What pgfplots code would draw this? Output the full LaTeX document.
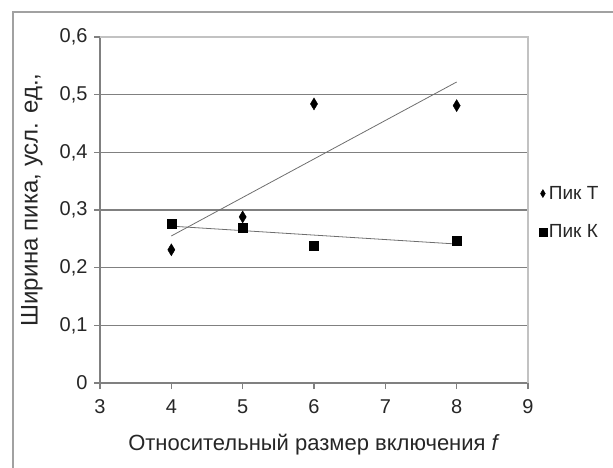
\documentclass[border=0pt]{standalone}
\usepackage{fontspec}
\setmainfont{Liberation Sans}
\usepackage{pgfplots}
\pgfplotsset{compat=1.18}

\colorlet{gridgray}{black!50}
\colorlet{boxgray}{black!24}
\colorlet{framegray}{black!37}
\colorlet{trendgray}{black!57}
\colorlet{txt}{black!85}

\begin{document}
\begin{tikzpicture}
  % outer chart frame (cropped on the right and bottom)
  \draw[framegray, line width=1.8pt] (13pt,-20pt) -- (13pt,455pt) -- (640pt,455pt);

  \begin{axis}[
      name=main,
      at={(100pt,84pt)}, anchor=south west,
      scale only axis, width=428pt, height=346pt,
      xmin=3, xmax=9, ymin=0, ymax=0.6,
      xtick={3,4,...,9}, ytick={0,0.1,0.2,0.3,0.4,0.5},
      axis x line*=bottom, axis y line*=left,
      axis line style={gridgray, line width=1.2pt, -},
      tick style={gridgray, line width=1.2pt},
      tick align=outside, major tick length=6pt,
      extra y ticks={0.6}, extra y tick style={grid=none},
      ymajorgrids=true,
      grid style={gridgray, line width=1.3pt},
      /pgf/number format/assume math mode=true,
      /pgf/number format/use comma,
      /pgf/number format/fixed,
      /pgf/number format/precision=1,
      ticklabel style={font=\fontsize{20}{24}\selectfont, text=txt},
      xticklabel style={yshift=-7pt},
      yticklabel style={xshift=-3pt},
      xlabel={Относительный размер включения \textit{f}},
      ylabel={Ширина пика, усл. ед.,},
      label style={text=txt},
      xlabel style={font=\fontsize{22}{26}\selectfont, at={(axis description cs:0.5,-0.178)}, anchor=center},
      ylabel style={font=\fontsize{24}{28}\selectfont, at={(axis description cs:-0.159,0.529)}, anchor=center},
      legend style={at={(axis description cs:1.025,0.575)}, anchor=north west,
                    draw=none, fill=none, font=\fontsize{19}{22}\selectfont,
                    text=txt, row sep=20pt, inner sep=0pt},
      legend cell align=left,
      legend image post style={mark size=4pt},
    ]
    \addplot[only marks, mark=diamond*, mark size=6pt, mark options={fill=black, draw=black, xscale=0.8}]
      coordinates {(4,0.231) (5,0.288) (6,0.484) (8,0.481)};
    \addlegendentry{Пик Т}
    \addplot[only marks, mark=square*, mark size=4.5pt, mark options={fill=black, draw=black}]
      coordinates {(4,0.277) (5,0.270) (6,0.238) (8,0.247)};
    \addlegendentry{Пик К}

    % linear trend lines
    \addplot[trendgray, line width=0.8pt, forget plot] coordinates {(4,0.255) (8,0.522)};
    \addplot[trendgray, line width=0.8pt, forget plot] coordinates {(4,0.272) (8,0.241)};
  \end{axis}
  % plot area border (top and right)
  \draw[boxgray, line width=1.2pt] (main.north west) -- (main.north east) -- (main.south east);

  \pgfresetboundingbox
  \path[use as bounding box] (0,0) rectangle (613pt,467pt);
\end{tikzpicture}
\end{document}
